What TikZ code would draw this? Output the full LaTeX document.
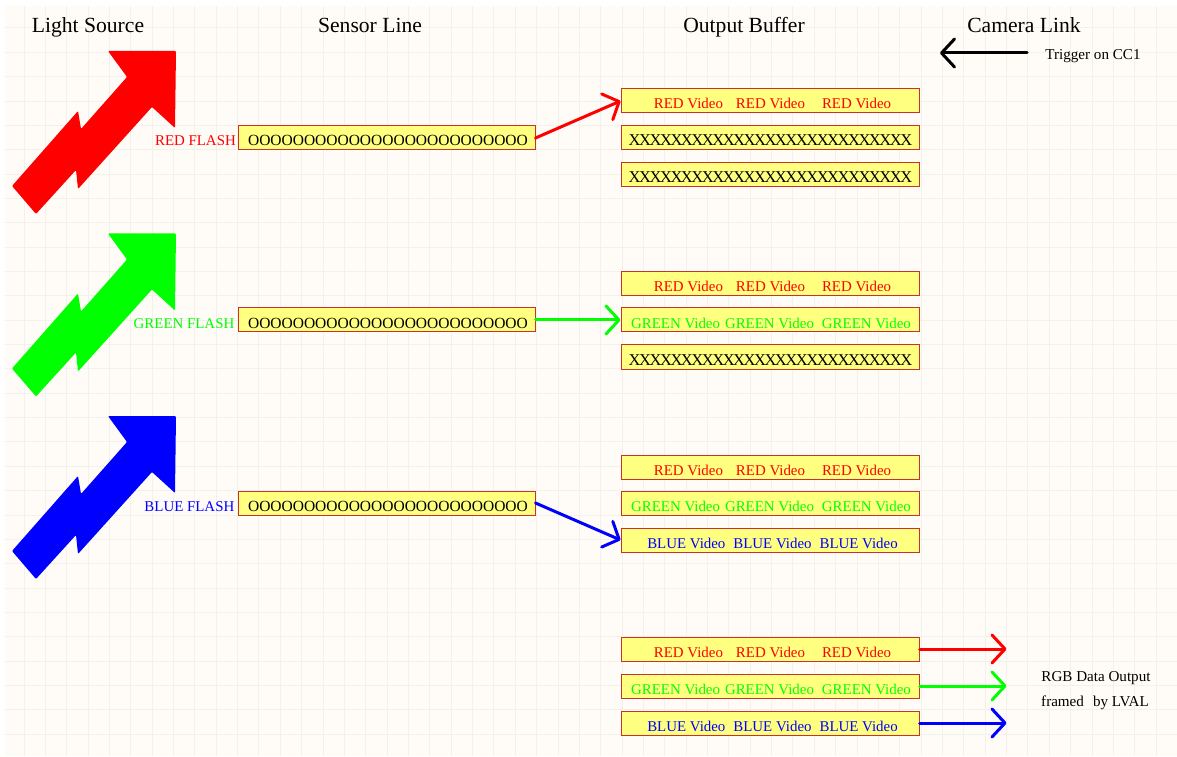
\documentclass[tikz,border=0pt]{standalone}
\usepackage{fontspec}
\setmainfont{Liberation Serif}
\newfontfamily\tightfont[LetterSpace=-8.9]{Liberation Serif}
\usetikzlibrary{positioning}
\usetikzlibrary{arrows.meta}

\definecolor{sheet}{HTML}{FFFCF8}
\definecolor{gridcol}{HTML}{F3F1EC}
\definecolor{boxfill}{HTML}{FFFF80}
\definecolor{boxline}{HTML}{C83228}
\definecolor{vidred}{HTML}{FF0000}
\definecolor{vidgreen}{HTML}{00FF00}
\definecolor{vidblue}{HTML}{0000FF}

\newcommand{\redvid}{\hspace*{5pt}{\color{vidred}RED Video\hspace{13pt}RED Video\hspace{17pt}RED Video}}
\newcommand{\greenvid}{\hspace*{2pt}{\color{vidgreen}GREEN Video\hspace{5pt}GREEN Video\hspace{8pt}GREEN Video}}
\newcommand{\bluevid}{\hspace*{5pt}{\color{vidblue}BLUE Video\hspace{8pt}BLUE Video\hspace{8pt}BLUE Video}}
\newcommand{\novid}{\hspace*{1pt}{\fontsize{16.5}{18}\tightfont XXXXXXXXXXXXXXXXXXXXXXXXXXX}}
\newcommand{\expose}{\hspace*{3pt}{\fontsize{15.5}{18}\selectfont OOOOOOOOOOOOOOOOOOOOOOOOO}}

\tikzset{
	flash/.pic={
		\fill[pic actions,rounded corners=1pt] (0,0) -- (66,75) -- (69,57) -- (115,109)
			-- (96,135) -- (164,135) -- (163,58) -- (140,79) -- (66,-3) -- (64,16) -- (24,-28) -- cycle;
	}
}

\begin{document}
\begin{tikzpicture}
	[	x=1pt,y=1pt,
		block/.style={rectangle,draw=boxline,fill=boxfill,line width=1pt,inner sep=0pt,
			minimum width=298pt,minimum height=24pt,text height=18pt,text depth=2pt,
			font=\fontsize{14.9}{18}\selectfont},
		vec/.style={-{Straight Barb[length=13pt,width=28pt,round]},line width=3pt,line cap=round},
		title/.style={anchor=base,inner sep=0pt,font=\fontsize{21.6}{24}\selectfont},
		label/.style={inner sep=0pt,text height=18pt,text depth=2pt,font=\fontsize{14.9}{18}\selectfont},
		remark/.style={anchor=base,inner sep=0pt,font=\fontsize{15.1}{17}\selectfont},
		gridline/.style={draw=gridcol,line width=1pt}	]
	\useasboundingbox (0,0) rectangle (1177,756);
	\fill[sheet] (5,0) rectangle (1177,750);
	\draw[gridline,xstep=21.36pt,ystep=24.35pt,shift={(2.64pt,21.85pt)}] (2.36,-21.85) grid (1174.36,728.15);

	\node[title] (tsrc) at (88,723) {Light Source};
	\node[title] (tsens) at (370,723) {Sensor Line};
	\node[title] (tbuf) at (744,723) {Output Buffer};
	\node[title] (tlink) at (1024,723) {Camera Link};

	\pic[fill=vidred] at (12,570) {flash};
	\pic[fill=vidgreen] at (12,387.5) {flash};
	\pic[fill=vidblue] at (12,205) {flash};

	\node[block,minimum width=297pt] (sens1) at (386.5,618) {\expose};
	\node[block,minimum width=297pt] (sens2) at (386.5,436) {\expose};
	\node[block,minimum width=297pt] (sens3) at (386.5,253) {\expose};
	\node[label,text=vidred] (lab1) [left = 1.5pt of sens1] {RED FLASH};
	\node[label,text=vidgreen] (lab2) [left = 3pt of sens2] {GREEN FLASH};
	\node[label,text=vidblue] (lab3) [left = 3pt of sens3] {BLUE FLASH};

	\node[block] (buf11) at (770,655) {\redvid};
	\node[block] (buf12) [below = 12pt of buf11] {\novid};
	\node[block] (buf13) [below = 11.5pt of buf12] {\novid};
	\node[block] (buf21) at (770,472) {\redvid};
	\node[block] (buf22) [below = 11pt of buf21] {\greenvid};
	\node[block] (buf23) [below = 12pt of buf22] {\novid};
	\node[block] (buf31) at (770,289) {\redvid};
	\node[block] (buf32) [below = 11pt of buf31] {\greenvid};
	\node[block] (buf33) [below = 12pt of buf32] {\bluevid};
	\node[block] (buf41) at (770,107) {\redvid};
	\node[block] (buf42) [below = 12pt of buf41] {\greenvid};
	\node[block] (buf43) [below = 12pt of buf42] {\bluevid};

	\draw[vec,vidred] (sens1.east) to (buf11.west);
	\draw[vec,vidgreen] (sens2.east) to (buf22.west);
	\draw[vec,vidblue] (sens3.east) to (buf33.west);

	\coordinate[right = 87pt of buf41] (out1);
	\coordinate[right = 87pt of buf42] (out2);
	\coordinate[right = 87pt of buf43] (out3);
	\draw[vec,vidred] (buf41.east) to (out1);
	\draw[vec,vidgreen] (buf42.east) to (out2);
	\draw[vec,vidblue] (buf43.east) to (out3);

	\node[remark] (trig) at (1093,696) {Trigger on CC1};
	\coordinate (trigfrom) at (1027,703);
	\coordinate (trigto) at (940,703);
	\draw[vec,black] (trigfrom) to (trigto);

	\node[remark] (rgb1) at (1096,75) {RGB Data Output};
	\node[remark] (rgb2) at (1095,50) {framed\hspace{9pt}by LVAL};
\end{tikzpicture}
\end{document}
